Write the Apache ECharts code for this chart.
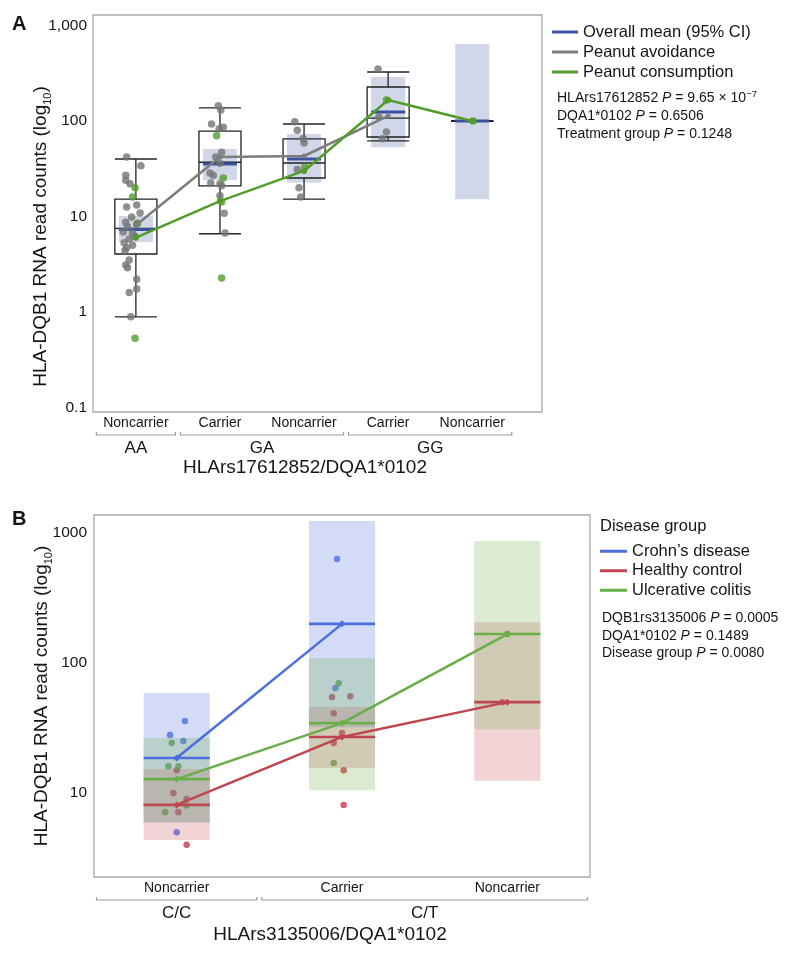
<!DOCTYPE html>
<html><head><meta charset="utf-8">
<script src="https://cdn.jsdelivr.net/npm/echarts@6/dist/echarts.min.js"></script>
<style>html,body{margin:0;padding:0;background:#fff}#c{width:789px;height:956px}</style>
</head><body><div id="c"></div>
<script>
// ---------------- Panel A data ----------------
const catsA = ['Noncarrier', 'Carrier', 'Noncarrier', 'Carrier', 'Noncarrier'];
const groupLabelsA = ['AA', 'GA', 'GG'];
const groupStartA = [0, 1, 3];
const groupEndA = [0, 2, 4];
const boxMinA = [0.89, 6.6, 15.2, 62, 100];
const boxQ1A  = [4.05, 20.9, 25.3, 68, 100];
const boxMedA = [7.5, 37, 36.3, 107, 100];
const boxQ3A  = [15.2, 78.5, 65, 227, 100];
const boxMaxA = [40, 137, 93, 326, 100];
const meanA   = [7.3, 35.5, 40, 124, 100];
const ciLowA  = [5.4, 24, 22.5, 53, 15.2];
const ciHighA = [10.1, 51, 73, 290, 640];
const avoidMeanA   = [8.1, 42, 43, 113];
const consumeMeanA = [6.0, 14.5, 30, 166, 100];
const avoidDotsA = [
  [-0.11, 42], [0.06, 34], [-0.12, 27], [-0.12, 24], [-0.07, 22], [-0.11, 12.6], [0.01, 13.2],
  [0.05, 10.9], [-0.05, 9.9], [-0.12, 8.7], [0.02, 8.5], [-0.10, 7.8], [-0.15, 6.9], [-0.04, 6.7],
  [-0.01, 6.2], [-0.08, 5.8], [-0.14, 5.3], [-0.04, 5.0], [-0.11, 4.7], [-0.13, 4.4], [-0.08, 3.5],
  [-0.12, 3.1], [-0.10, 2.9], [0.01, 2.2], [0.01, 1.74], [-0.08, 1.6], [-0.06, 0.89],
  [0.98, 144], [1.01, 130], [0.90, 93], [1.04, 86], [0.99, 83], [1.02, 47], [0.95, 42], [1.0, 36],
  [0.88, 28.5], [0.92, 27], [0.89, 22.4], [1.0, 22], [1.02, 21], [1.0, 16.5], [1.05, 10.8], [1.06, 6.7],
  [1.89, 98], [1.92, 80], [1.99, 65], [2.0, 59], [1.92, 31], [1.94, 20], [1.96, 16],
  [2.88, 350], [2.89, 110], [2.98, 76.5], [2.93, 65]
];
const consumeDotsA = [
  [-0.01, 20], [-0.04, 16], [0.01, 8.3], [-0.01, 0.53],
  [0.96, 70], [1.04, 25.3], [1.02, 14.2], [1.02, 2.27],
  [2.01, 33], [2.98, 166], [4.01, 100]
];

// ---------------- Panel B data ----------------
const catsB = ['Noncarrier', 'Carrier', 'Noncarrier'];
const groupLabelsB = ['C/C', 'C/T'];
const groupStartB = [0, 1];
const groupEndB = [0, 2];
const crohnMeanB   = [18.6, 200, null];
const crohnLowB    = [5.9, 32, null];
const crohnHighB   = [58.8, 1237, null];
const healthyMeanB = [8.1, 27, 50];
const healthyLowB  = [4.35, 15.6, 12.4];
const healthyHighB = [15.3, 45.9, 206];
const ucMeanB      = [12.8, 34.5, 167];
const ucLowB       = [5.98, 10.5, 31];
const ucHighB      = [26.5, 109, 868];
const crohnDotsB = [[0.05, 35.8], [-0.04, 27.9], [0.04, 25.1], [0.0, 5.0], [0.97, 631], [0.96, 64]];
const ucDotsB = [[-0.03, 24.3], [-0.05, 16.1], [0.01, 16.1], [0.06, 8.0], [-0.07, 7.1], [0.98, 70], [0.95, 17], [2.0, 167]];
const healthyDotsB = [[0.0, 15], [-0.02, 10], [0.06, 9.0], [0.01, 7.1], [0.06, 4.0],
  [0.94, 54.7], [1.05, 55.5], [0.95, 41], [1.0, 29], [0.95, 24.3], [1.01, 15], [1.01, 8.1], [1.97, 50]];

// ---------------- styling ----------------
const FONT = '"Liberation Sans", Arial, Helvetica, sans-serif';
const TXT = '#151515';
const BLUE_A = '#3c51a2', BAND_A = 'rgba(61,82,161,0.24)', GRAY = '#7d7d7d', GREEN_A = '#529c2a';
const C_BLUE = '#4a6fdc', C_RED = '#bf4650', C_GREEN = '#69ae48';
const D_BLUE = '#4c6fe3', D_RED = '#c83a4c', D_GREEN = '#5fa34c';

function bandPx(api) { return Math.abs(api.coord([1, 10])[0] - api.coord([0, 10])[0]); }

function boxRender(params, api) {
  const x = api.value(0);
  const bw = bandPx(api) * 0.5;
  const cx = api.coord([x, api.value(1)])[0];
  const yMin = api.coord([x, api.value(1)])[1];
  const yQ1 = api.coord([x, api.value(2)])[1];
  const yMed = api.coord([x, api.value(3)])[1];
  const yQ3 = api.coord([x, api.value(4)])[1];
  const yMax = api.coord([x, api.value(5)])[1];
  const l = cx - bw / 2, r = cx + bw / 2;
  const st = { stroke: '#222', lineWidth: 1.3, fill: 'none' };
  return { type: 'group', children: [
    { type: 'line', shape: { x1: l, y1: yMax, x2: r, y2: yMax }, style: st },
    { type: 'line', shape: { x1: cx, y1: yMax, x2: cx, y2: yQ3 }, style: st },
    { type: 'rect', shape: { x: l, y: yQ3, width: bw, height: yQ1 - yQ3 }, style: st },
    { type: 'line', shape: { x1: l, y1: yMed, x2: r, y2: yMed }, style: st },
    { type: 'line', shape: { x1: cx, y1: yQ1, x2: cx, y2: yMin }, style: st },
    { type: 'line', shape: { x1: l, y1: yMin, x2: r, y2: yMin }, style: st }
  ] };
}
function bandRender(frac, color) {
  return function (params, api) {
    const x = api.value(0);
    const w = bandPx(api) * frac;
    const pl = api.coord([x, api.value(1)]), ph = api.coord([x, api.value(2)]);
    return { type: 'rect', shape: { x: pl[0] - w / 2, y: ph[1], width: w, height: pl[1] - ph[1] }, style: { fill: color } };
  };
}
function meanRender(frac, color, lw) {
  return function (params, api) {
    const p = api.coord([api.value(0), api.value(1)]);
    const w = bandPx(api) * frac;
    return { type: 'line', shape: { x1: p[0] - w / 2, y1: p[1], x2: p[0] + w / 2, y2: p[1] }, style: { stroke: color, lineWidth: lw } };
  };
}
function bracketSeries(ai, labels, starts, ends) {
  return {
    type: 'custom', xAxisIndex: ai, yAxisIndex: ai, silent: true, clip: false, z: 1,
    data: labels.map((l, i) => [starts[i], ends[i], 10]),
    encode: { x: [0, 1], y: 2 },
    renderItem: function (params, api) {
      const bp = bandPx(api);
      const cs = params.coordSys;
      const bottom = cs.y + cs.height;
      const x0 = api.coord([api.value(0), 10])[0] - bp / 2 + 2.5;
      const x1 = api.coord([api.value(1), 10])[0] + bp / 2 - 2.5;
      const yb = bottom + 23;
      return { type: 'group', children: [
        { type: 'polyline', shape: { points: [[x0, yb - 3], [x0, yb], [x1, yb], [x1, yb - 3]] }, style: { stroke: '#9c9c9c', lineWidth: 1.2, fill: 'none' } },
        { type: 'text', x: (x0 + x1) / 2, y: bottom + 36, style: { text: labels[params.dataIndex], fontSize: 17, fontFamily: FONT, fill: TXT, align: 'center', verticalAlign: 'middle' } }
      ] };
    }
  };
}
const pairs = arr => arr.map((v, i) => v == null ? null : [i, v]).filter(Boolean);
const triples = (lo, hi) => lo.map((v, i) => v == null ? null : [i, v, hi[i]]).filter(Boolean);

function yName(padRight) {
  return {
    name: '{a|HLA-DQB1 RNA read counts (log}{s|10}{a|)}',
    nameLocation: 'middle', nameRotate: 90, nameGap: 40, nameMoveOverlap: false,
    nameTextStyle: {
      padding: [0, padRight, 0, 0],
      rich: {
        a: { fontSize: 19, lineHeight: 24, color: TXT, fontFamily: FONT },
        s: { fontSize: 11, verticalAlign: 'bottom', color: TXT, fontFamily: FONT }
      }
    }
  };
}
function pStyle(lh, withSup) {
  const base = { fontSize: 14, lineHeight: lh, color: TXT, fontFamily: FONT, fontWeight: 'normal' };
  const r = { t: base, i: Object.assign({}, base, { fontStyle: 'italic' }) };
  if (withSup) r.s = { fontSize: 9.5, verticalAlign: 'top', color: TXT, fontFamily: FONT, fontWeight: 'normal' };
  return { fontWeight: 'normal', fontSize: 14, color: TXT, fontFamily: FONT, rich: r };
}

const option = {
  animation: false,
  textStyle: { fontFamily: FONT, color: TXT },
  grid: [
    { left: 93, top: 15, width: 449, height: 397, show: true, borderColor: '#a8a8a8', borderWidth: 1.3, outerBoundsMode: 'none', containLabel: false },
    { left: 94, top: 515, width: 496, height: 362, show: true, borderColor: '#a8a8a8', borderWidth: 1.3, outerBoundsMode: 'none', containLabel: false }
  ],
  xAxis: [
    { gridIndex: 0, type: 'value', min: -0.51, max: 4.83,
      axisLine: { show: false }, axisTick: { show: false }, splitLine: { show: false },
      axisLabel: { customValues: [0, 1, 2, 3, 4], formatter: v => catsA[Math.round(v)], fontSize: 14, color: TXT, margin: 4, fontFamily: FONT },
      name: 'HLArs17612852/DQA1*0102', nameLocation: 'middle', nameGap: 46.5, nameMoveOverlap: false,
      nameTextStyle: { fontSize: 19, color: TXT, padding: [0, 25, 0, 0], fontFamily: FONT } },
    { gridIndex: 1, type: 'value', min: -0.5, max: 2.5,
      axisLine: { show: false }, axisTick: { show: false }, splitLine: { show: false },
      axisLabel: { customValues: [0, 1, 2], formatter: v => catsB[Math.round(v)], fontSize: 14, color: TXT, margin: 4, fontFamily: FONT },
      name: 'HLArs3135006/DQA1*0102', nameLocation: 'middle', nameGap: 48.5, nameMoveOverlap: false,
      nameTextStyle: { fontSize: 19, color: TXT, padding: [0, 24, 0, 0], fontFamily: FONT } }
  ],
  yAxis: [
    Object.assign({ gridIndex: 0, type: 'log', logBase: 10, min: 0.0897, max: 1288,
      axisLine: { show: false }, axisTick: { show: false }, splitLine: { show: false },
      axisLabel: { showMinLabel: false, showMaxLabel: false, fontSize: 15.5, color: TXT, margin: 6, fontFamily: FONT,
        formatter: v => { const r = Math.round(v * 1000) / 1000; return r >= 1000 ? '1,000' : String(r); } } }, yName(46)),
    Object.assign({ gridIndex: 1, type: 'log', logBase: 10, min: 2.26, max: 1375,
      axisLine: { show: false }, axisTick: { show: false }, splitLine: { show: false },
      axisLabel: { showMinLabel: false, showMaxLabel: false, fontSize: 15.5, color: TXT, margin: 7, fontFamily: FONT,
        formatter: v => String(Math.round(v * 1000) / 1000) } }, yName(0))
  ],
  title: [
    { text: 'A', left: 12, top: 14.5, padding: 0, textStyle: { fontSize: 20, fontWeight: 'bold', color: TXT, fontFamily: FONT } },
    { text: 'B', left: 12, top: 509.5, padding: 0, textStyle: { fontSize: 20, fontWeight: 'bold', color: TXT, fontFamily: FONT } },
    { text: '{t|HLArs17612852 }{i|P}{t| = 9.65 × 10}{s|−7}\n{t|DQA1*0102 }{i|P}{t| = 0.6506}\n{t|Treatment group }{i|P}{t| = 0.1248}',
      left: 557, top: 89, padding: 0, textStyle: pStyle(18, true) },
    { text: 'Disease group', left: 600, top: 517.5, padding: 0, textStyle: { fontSize: 16.5, fontWeight: 'normal', color: TXT, fontFamily: FONT } },
    { text: '{t|DQB1rs3135006 }{i|P}{t| = 0.0005}\n{t|DQA1*0102 }{i|P}{t| = 0.1489}\n{t|Disease group }{i|P}{t| = 0.0080}',
      left: 602, top: 609.5, padding: 0, textStyle: pStyle(17.5, false) }
  ],
  legend: [
    { data: ['Overall mean (95% CI)', 'Peanut avoidance', 'Peanut consumption'],
      orient: 'vertical', left: 552, top: 22, padding: 0, itemWidth: 26, itemHeight: 3, itemGap: 0, icon: 'rect', selectedMode: false,
      textStyle: { fontSize: 16.5, color: TXT, lineHeight: 20, fontFamily: FONT } },
    { data: ['Crohn’s disease', 'Healthy control', 'Ulcerative colitis'],
      orient: 'vertical', left: 600, top: 541.5, padding: 0, itemWidth: 27, itemHeight: 3, itemGap: 0, icon: 'rect', selectedMode: false,
      textStyle: { fontSize: 16.5, color: TXT, lineHeight: 19.5, fontFamily: FONT } }
  ],
  series: [
    // ---- Panel A ----
    { type: 'custom', name: 'CI band A', xAxisIndex: 0, yAxisIndex: 0, silent: true, z: 1,
      data: triples(ciLowA, ciHighA), encode: { x: 0, y: [1, 2] }, renderItem: bandRender(0.405, BAND_A) },
    { type: 'custom', name: 'Boxes A', xAxisIndex: 0, yAxisIndex: 0, silent: true, z: 2,
      data: catsA.map((c, i) => [i, boxMinA[i], boxQ1A[i], boxMedA[i], boxQ3A[i], boxMaxA[i]]),
      encode: { x: 0, y: [1, 2, 3, 4, 5] }, renderItem: boxRender },
    { type: 'custom', name: 'Overall mean (95% CI)', xAxisIndex: 0, yAxisIndex: 0, silent: true, z: 3,
      itemStyle: { color: BLUE_A }, data: pairs(meanA), encode: { x: 0, y: 1 }, renderItem: meanRender(0.405, BLUE_A, 3) },
    { type: 'scatter', name: 'avoid dots', xAxisIndex: 0, yAxisIndex: 0, silent: true, z: 4,
      data: avoidDotsA, symbolSize: 7.5, itemStyle: { color: '#747474' } },
    { type: 'scatter', name: 'consume dots', xAxisIndex: 0, yAxisIndex: 0, silent: true, z: 4,
      data: consumeDotsA, symbolSize: 7.5, itemStyle: { color: GREEN_A } },
    { type: 'line', name: 'Peanut avoidance', xAxisIndex: 0, yAxisIndex: 0, silent: true, z: 5,
      data: pairs(avoidMeanA), symbol: 'circle', symbolSize: 5, lineStyle: { color: GRAY, width: 2.5 }, itemStyle: { color: GRAY } },
    { type: 'line', name: 'Peanut consumption', xAxisIndex: 0, yAxisIndex: 0, silent: true, z: 5,
      data: pairs(consumeMeanA), symbol: 'circle', symbolSize: 6, lineStyle: { color: GREEN_A, width: 2.5 }, itemStyle: { color: GREEN_A } },
    bracketSeries(0, groupLabelsA, groupStartA, groupEndA),

    // ---- Panel B ----
    { type: 'scatter', name: 'crohn dots', xAxisIndex: 1, yAxisIndex: 1, silent: true, z: 1, data: crohnDotsB, symbolSize: 6.5, itemStyle: { color: D_BLUE } },
    { type: 'scatter', name: 'healthy dots', xAxisIndex: 1, yAxisIndex: 1, silent: true, z: 1, data: healthyDotsB, symbolSize: 6.5, itemStyle: { color: D_RED } },
    { type: 'scatter', name: 'uc dots', xAxisIndex: 1, yAxisIndex: 1, silent: true, z: 1, data: ucDotsB, symbolSize: 6.5, itemStyle: { color: D_GREEN } },
    { type: 'custom', name: 'crohn band', xAxisIndex: 1, yAxisIndex: 1, silent: true, z: 2,
      data: triples(crohnLowB, crohnHighB), encode: { x: 0, y: [1, 2] }, renderItem: bandRender(0.4, 'rgba(79,111,223,0.25)') },
    { type: 'custom', name: 'healthy band', xAxisIndex: 1, yAxisIndex: 1, silent: true, z: 2,
      data: triples(healthyLowB, healthyHighB), encode: { x: 0, y: [1, 2] }, renderItem: bandRender(0.4, 'rgba(200,70,85,0.24)') },
    { type: 'custom', name: 'uc band', xAxisIndex: 1, yAxisIndex: 1, silent: true, z: 2,
      data: triples(ucLowB, ucHighB), encode: { x: 0, y: [1, 2] }, renderItem: bandRender(0.4, 'rgba(106,175,76,0.25)') },
    { type: 'custom', name: 'crohn mean', xAxisIndex: 1, yAxisIndex: 1, silent: true, z: 3,
      data: pairs(crohnMeanB), encode: { x: 0, y: 1 }, renderItem: meanRender(0.4, C_BLUE, 2.6) },
    { type: 'custom', name: 'healthy mean', xAxisIndex: 1, yAxisIndex: 1, silent: true, z: 3,
      data: pairs(healthyMeanB), encode: { x: 0, y: 1 }, renderItem: meanRender(0.4, C_RED, 2.6) },
    { type: 'custom', name: 'uc mean', xAxisIndex: 1, yAxisIndex: 1, silent: true, z: 3,
      data: pairs(ucMeanB), encode: { x: 0, y: 1 }, renderItem: meanRender(0.4, C_GREEN, 2.6) },
    { type: 'line', name: 'Crohn’s disease', xAxisIndex: 1, yAxisIndex: 1, silent: true, z: 4,
      data: pairs(crohnMeanB), symbol: 'diamond', symbolSize: 7, lineStyle: { color: C_BLUE, width: 2.5 }, itemStyle: { color: C_BLUE } },
    { type: 'line', name: 'Healthy control', xAxisIndex: 1, yAxisIndex: 1, silent: true, z: 4,
      data: pairs(healthyMeanB), symbol: 'diamond', symbolSize: 7, lineStyle: { color: C_RED, width: 2.5 }, itemStyle: { color: C_RED } },
    { type: 'line', name: 'Ulcerative colitis', xAxisIndex: 1, yAxisIndex: 1, silent: true, z: 4,
      data: pairs(ucMeanB), symbol: 'diamond', symbolSize: 7, lineStyle: { color: C_GREEN, width: 2.5 }, itemStyle: { color: C_GREEN } },
    bracketSeries(1, groupLabelsB, groupStartB, groupEndB)
  ]
};
const chart = echarts.init(document.getElementById('c'), null, { renderer: 'canvas' });
chart.setOption(option);
</script>
</body></html>
